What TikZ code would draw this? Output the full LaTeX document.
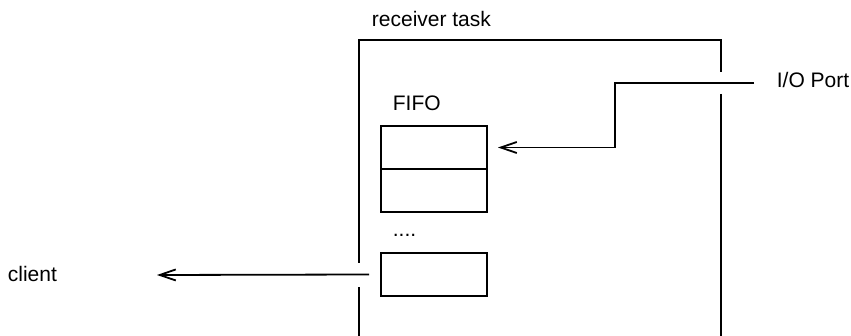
\documentclass[tikz,border=0pt]{standalone}
\usepackage{fontspec}
\setmainfont{Liberation Sans}
\usetikzlibrary{positioning,arrows.meta}

\tikzset{
  slot/.style={draw, rectangle, minimum width=53pt, minimum height=21.5pt,
    inner sep=0pt, outer sep=0pt},
  txt/.style={inner sep=0pt, anchor=base west},
  link/.style={-{Straight Barb[length=8pt,width=5.5pt]}}
}

\begin{document}
\begin{tikzpicture}[x=0.5pt, y=-0.5pt, line width=0.9pt,
  font=\fontsize{10.5}{12.6}\selectfont]

  \useasboundingbox (0,0) rectangle (851,336);

  % Task frame (open at the ports)
  \draw (359,336) -- (359,287) ; %
  \draw (359,263) -- (359,40) -- (721,40) -- (721,72) ; %
  \draw (721,94) -- (721,336) ; %

  % Labels
  \node[txt] (task)   at (371,27)  {receiver task} ; %
  \node[txt] (fifo)   at (392,111) {FIFO} ; %
  \node[txt] (dots)   at (392,237) {....} ; %
  \node[txt] (io)     at (776,88)  {I/O Port} ; %
  \node[txt] (client) at (7,282)   {client} ; %

  % FIFO slots
  \node[slot, anchor=north west] (fifo1) at (381,126) {} ; %
  \node[slot, below=0pt of fifo1]  (fifo2) {} ; %
  \node[slot, anchor=north west] (slotn) at (381,253) {} ; %

  % Connections
  \coordinate (io-end)     at (754,83) ; %
  \coordinate (io-bend)    at (615,83) ; %
  \coordinate (client-tip) at (157,275) ; %

  \draw[link] (io-end) -- (io-bend) |- ([xshift=5.5pt]fifo1.east) ; %
  \draw[link] ([xshift=-6pt]slotn.west) -- (client-tip) ; %

\end{tikzpicture}
\end{document}
